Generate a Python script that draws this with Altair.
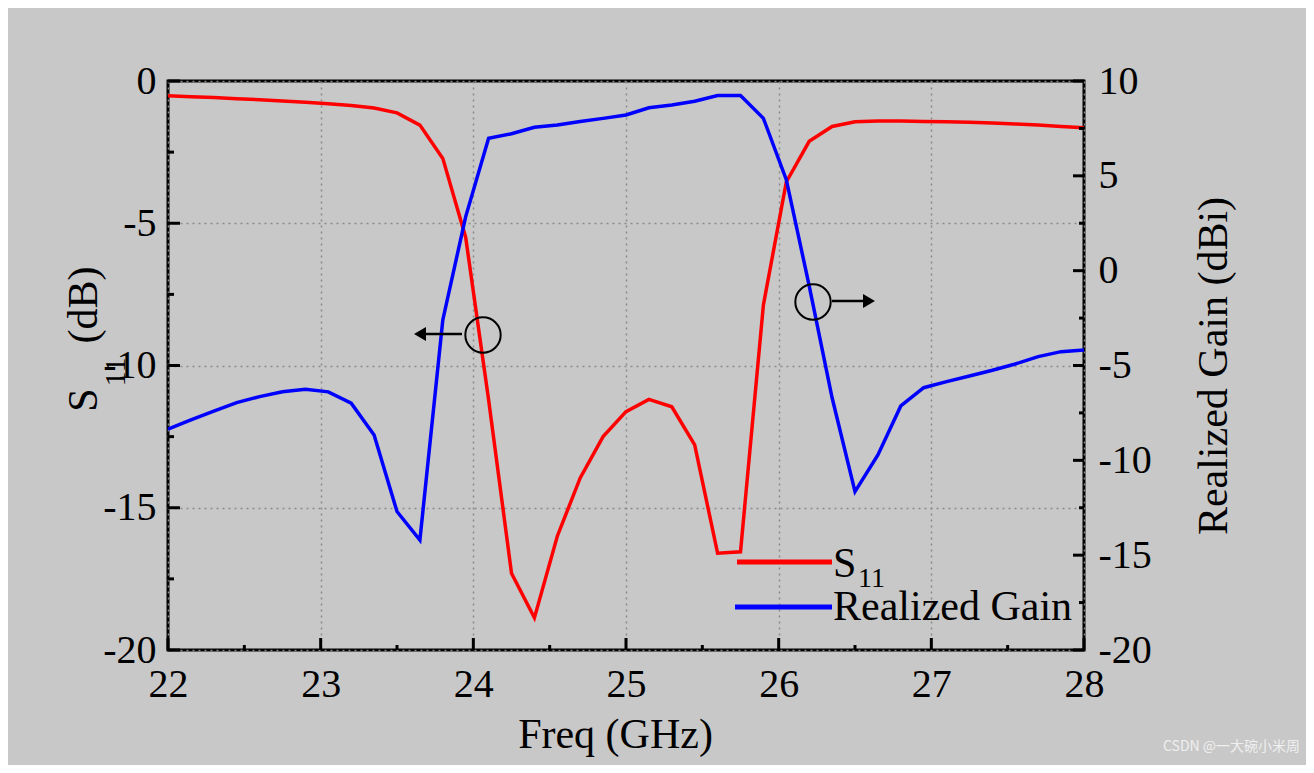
import altair as alt
import pandas as pd

# ---------------- data ----------------
freq = [22.00, 22.15, 22.30, 22.45, 22.60, 22.75, 22.90, 23.05, 23.20, 23.35,
        23.50, 23.65, 23.80, 23.95, 24.10, 24.25, 24.40, 24.55, 24.70, 24.85,
        25.00, 25.15, 25.30, 25.45, 25.60, 25.75, 25.90, 26.05, 26.20, 26.35,
        26.50, 26.65, 26.80, 26.95, 27.10, 27.25, 27.40, 27.55, 27.70, 27.85,
        28.00]
s11 = [-0.52, -0.55, -0.58, -0.62, -0.66, -0.70, -0.75, -0.80, -0.86, -0.95,
       -1.12, -1.55, -2.72, -5.50, -11.2, -17.3, -18.87, -16.0, -13.95, -12.5,
       -11.62, -11.19, -11.45, -12.79, -16.6, -16.55, -7.87, -3.55, -2.12, -1.60,
       -1.43, -1.41, -1.41, -1.42, -1.43, -1.45, -1.48, -1.51, -1.55, -1.60,
       -1.64]
gain = [-8.35, -7.87, -7.40, -6.96, -6.64, -6.38, -6.25, -6.39, -6.99, -8.66,
        -12.7, -14.2, -2.60, 2.85, 6.98, 7.22, 7.56, 7.68, 7.86, 8.03,
        8.21, 8.59, 8.73, 8.93, 9.23, 9.23, 8.03, 4.80, -0.80, -6.70,
        -11.65, -9.72, -7.13, -6.17, -5.85, -5.55, -5.25, -4.92, -4.53, -4.27,
        -4.18]

x_ticks = [22, 23, 24, 25, 26, 27, 28]
x_minor = [22.5, 23.5, 24.5, 25.5, 26.5, 27.5]
left_ticks = [-20, -15, -10, -5, 0]
left_minor = [-17.5, -12.5, -7.5, -2.5]
right_ticks = [-20, -15, -10, -5, 0, 5, 10]
right_minor = [-17.5, -12.5, -7.5, -2.5, 2.5, 7.5]

W, H = 916, 569
FONT = "Liberation Serif"

df = pd.DataFrame({"freq": freq, "s11": s11, "gain": gain})
one = pd.DataFrame({"k": [0]})

xscale = alt.Scale(domain=[22, 28], nice=False, zero=False)
lscale = alt.Scale(domain=[-20, 0], nice=False, zero=False)
rscale = alt.Scale(domain=[-20, 10], nice=False, zero=False)

x_axis = alt.Axis(values=x_ticks, format="d", title="Freq (GHz)", grid=True,
                  gridDash=[2, 4], gridColor="#8a8a8a", gridWidth=1.5,
                  labelFlush=False, labelPadding=14, titlePadding=10, titleX=447,
                  domain=False, ticks=False)

s11_line = alt.Chart(df).mark_line(color="#ff0000", strokeWidth=3.5).encode(
    x=alt.X("freq:Q", scale=xscale, axis=x_axis),
    y=alt.Y("s11:Q", scale=lscale,
            axis=alt.Axis(values=left_ticks, labelExpr="'' + datum.value",
                          title="", grid=True, gridDash=[2, 4],
                          gridColor="#8a8a8a", gridWidth=1.5,
                          labelFlush=False, labelPadding=12,
                          domain=False, ticks=False)),
)

gain_line = alt.Chart(df).mark_line(color="#0000ff", strokeWidth=3.5).encode(
    x=alt.X("freq:Q", scale=xscale),
    y=alt.Y("gain:Q", scale=rscale,
            axis=alt.Axis(orient="right", values=right_ticks,
                          labelExpr="'' + datum.value",
                          title="Realized Gain (dBi)", titleAngle=270, grid=False,
                          labelFlush=False, labelPadding=14, titlePadding=84,
                          domain=False, ticks=False)),
)

# inward ticks
def yticks(vals, scale, x0, x1):
    return alt.Chart(pd.DataFrame({"v": vals})).mark_rule(color="black", strokeWidth=3).encode(
        y=alt.Y("v:Q", scale=scale, axis=None),
        x=alt.value(x0), x2=alt.value(x1))

def xticks(vals, length):
    return alt.Chart(pd.DataFrame({"freq": vals})).mark_rule(color="black", strokeWidth=3).encode(
        x=alt.X("freq:Q", scale=xscale),
        y=alt.value(H - length), y2=alt.value(H))

left_major = yticks(left_ticks, lscale, 0, 12)
left_min = yticks(left_minor, lscale, 0, 6)
right_major = yticks(right_ticks, rscale, W - 11, W)
right_min = yticks(right_minor, rscale, W - 5, W)
bottom_major = xticks(x_ticks, 12)
bottom_min = xticks(x_minor, 5)

def txt(text, x, y, size, angle=0, align="center", baseline="middle", font=FONT, color="black"):
    return alt.Chart(one).mark_text(text=text, font=font, fontSize=size, angle=angle,
                                    align=align, baseline=baseline, color=color).encode(
        x=alt.value(x), y=alt.value(y))

def seg(x0, x1, y, color, width):
    return alt.Chart(one).mark_rule(color=color, strokeWidth=width).encode(
        x=alt.value(x0), x2=alt.value(x1), y=alt.value(y))

def pt(x, y, shape, size, filled):
    return alt.Chart(one).mark_point(shape=shape, size=size, filled=filled, color="black",
                                     strokeWidth=2, opacity=1).encode(
        x=alt.value(x), y=alt.value(y))

# left axis title (S11 (dB)) with subscript
ltitle = [
    txt("S", -84, 319, 42, angle=270),
    txt("(dB)", -84, 224, 42, angle=270),
    txt("11", -52, 291, 30, angle=270),
]

# legend
legend = [
    seg(569, 664, 481, "#ff0000", 5),
    txt("S", 665, 496, 42, align="left", baseline="alphabetic"),
    txt("11", 690, 506, 28, align="left", baseline="alphabetic"),
    seg(567, 664, 526, "#0000ff", 5),
    txt("Realized Gain", 665, 539, 42, align="left", baseline="alphabetic"),
]

# circle + arrow annotations
annot = [
    pt(315, 254, "circle", 1250, False),
    seg(258, 294, 253, "black", 2.5),
    pt(252, 253, "triangle-left", 190, True),
    pt(645, 221, "circle", 1250, False),
    seg(664, 697, 220, "black", 2.5),
    pt(701, 220, "triangle-right", 190, True),
]

watermark = txt("CSDN @一大碗小米周", 995, 670, 14, align="left", baseline="alphabetic",
                font="Noto Sans CJK SC", color="#efefef")

chart = alt.layer(
    s11_line, gain_line, left_major, left_min, right_major, right_min,
    bottom_major, bottom_min, *ltitle, *legend, *annot, watermark
).resolve_scale(y="independent").properties(
    width=W, height=H,
    autosize=alt.AutoSizeParams(type="none"),
    padding={"left": 160, "top": 73, "right": 222, "bottom": 115},
    background="#c8c8c8",
).configure_view(
    stroke="black", strokeWidth=3, fill="#c8c8c8"
).configure_axis(
    labelFont=FONT, labelFontSize=40, labelColor="black",
    titleFont=FONT, titleFontSize=42, titleFontWeight="normal", titleColor="black",
    labelOverlap=False,
)

chart.save("out.html", embed_options={"renderer": "svg", "actions": False})
